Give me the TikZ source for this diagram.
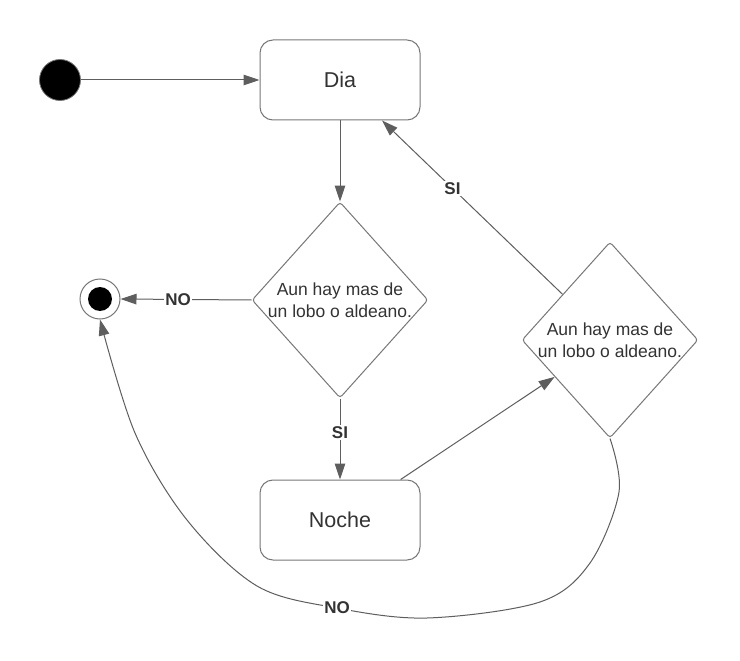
\documentclass[tikz,border=0pt]{standalone}
\usepackage{fontspec}
\setmainfont{Liberation Sans}
\usetikzlibrary{shapes.geometric,arrows.meta}
\definecolor{lc}{HTML}{5E5E5E}
\definecolor{bc}{HTML}{777777}
\definecolor{tc}{HTML}{333333}
\begin{document}
\begin{tikzpicture}[x=1pt,y=-1pt,
  statebox/.style={draw=bc, line width=1pt, rounded corners=13pt, minimum width=160pt, minimum height=80pt, inner sep=0pt, font=\fontsize{21.5}{25}\selectfont, text=tc},
  decision/.style={diamond, draw=bc, line width=1pt, rounded corners=3pt, minimum width=176pt, minimum height=196pt, inner sep=0pt},
  dtext/.style={align=center, font=\fontsize{17.5}{21.7}\selectfont, text=tc, inner sep=0pt},
  arr/.style={draw=lc, line width=1pt, -{Triangle[length=16pt,width=10.5pt]}},
  lbl/.style={fill=white, font=\bfseries\fontsize{17}{20}\selectfont, text=tc, inner sep=1.5pt}]
\useasboundingbox (0,0) rectangle (740,661);
\fill[white] (0,0) rectangle (740,661);

\node[circle, fill=black, draw=bc, line width=0.8pt, minimum size=41pt, inner sep=0pt] (start) at (60,80) {};
\node[statebox] (dia) at (340,80) {Dia};
\node[statebox] (noche) at (340,520) {Noche};
\node[decision, label={[dtext]center:{Aun hay mas de\\un lobo o aldeano.}}] (d1) at (340,300) {};
\node[decision, label={[dtext]center:{Aun hay mas de\\un lobo o aldeano.}}] (d2) at (610,340) {};
\node[circle, draw=bc, line width=1pt, minimum size=40pt, inner sep=0pt] (end) at (100,299) {};
\fill[black] (end.center) circle (12pt);

\draw[arr] (start) -- (dia.west);
\draw[arr] (dia.south) -- (d1.north);
\draw[arr] (d1.west) -- node[lbl, pos=0.56] {NO} (end.east);
\draw[arr] (d1.south) -- node[lbl, pos=0.42] {SI} (noche.north);
\draw[arr] (noche) -- (d2);
\draw[arr] (d2) -- node[lbl, pos=0.61] {SI} (dia);
\draw[arr] plot[smooth, tension=0.55] coordinates {(d2.south) (619,492) (590,563) (540,602) (427,618) (337,608) (257,586) (187,520) (135,433) (end.south)};
\node[lbl] (nolbl) at (337,608) {NO};
\end{tikzpicture}
\end{document}
